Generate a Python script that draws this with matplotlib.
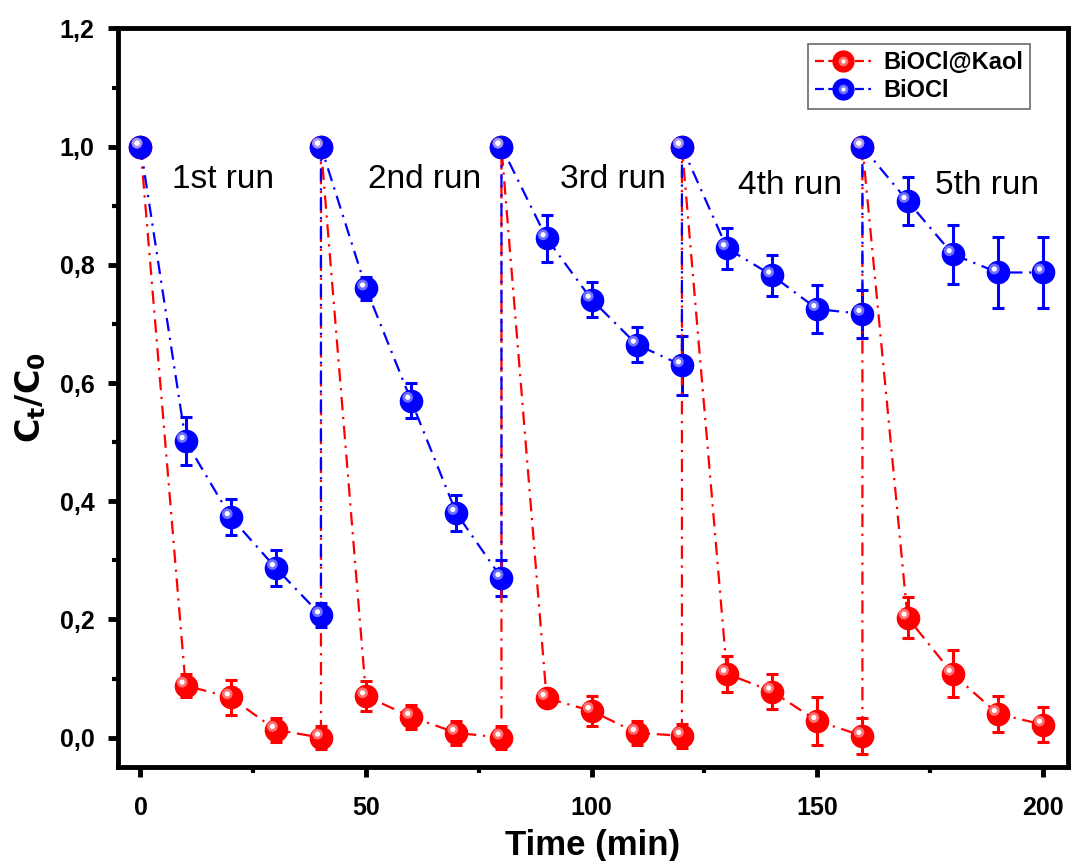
import numpy as np
import matplotlib
matplotlib.use("Agg")
import matplotlib.pyplot as plt
from matplotlib.ticker import FuncFormatter, MultipleLocator
from matplotlib.transforms import offset_copy
from matplotlib.lines import Line2D
from matplotlib.legend_handler import HandlerTuple

plt.rcParams['font.family'] = ['Liberation Sans', 'DejaVu Sans']

# data: 5 runs, each 0..40 min, points at run boundaries repeated
time = [0, 10, 20, 30, 40,
        40, 50, 60, 70, 80,
        80, 90, 100, 110, 120,
        120, 130, 140, 150, 160,
        160, 170, 180, 190, 200]
kaol = [1.0, 0.088, 0.068, 0.013, 0.0,
        1.0, 0.070, 0.035, 0.008, 0.0,
        1.0, 0.067, 0.045, 0.008, 0.003,
        1.0, 0.108, 0.078, 0.028, 0.003,
        1.0, 0.203, 0.108, 0.040, 0.022]
kaol_err = [0, 0.02, 0.03, 0.02, 0.02,
            0, 0.025, 0.02, 0.02, 0.02,
            0, 0.0, 0.025, 0.02, 0.02,
            0, 0.03, 0.03, 0.04, 0.03,
            0, 0.035, 0.04, 0.03, 0.03]
bioc = [1.0, 0.502, 0.373, 0.287, 0.207,
        1.0, 0.760, 0.570, 0.380, 0.270,
        1.0, 0.845, 0.741, 0.665, 0.630,
        1.0, 0.828, 0.782, 0.725, 0.717,
        1.0, 0.908, 0.818, 0.787, 0.787]
bioc_err = [0, 0.04, 0.03, 0.03, 0.02,
            0, 0.02, 0.03, 0.03, 0.03,
            0, 0.04, 0.03, 0.03, 0.05,
            0, 0.035, 0.035, 0.04, 0.04,
            0, 0.04, 0.05, 0.06, 0.06]

runs = ["1st run", "2nd run", "3rd run", "4th run", "5th run"]
run_x = [7, 50.5, 93, 132.5, 176]
run_y = [0.945, 0.945, 0.945, 0.935, 0.935]

fig = plt.figure(figsize=(10.72, 8.61), dpi=100)
ax = fig.add_axes([0.110, 0.109, 0.886, 0.858])

dashdot = (0, (6, 3, 1, 3))

def sphere(x, y, err, color, light):
    ax.errorbar(x, y, yerr=err, color=color, ls=dashdot, lw=1.6,
                marker='o', ms=16, mfc=color, mec=color,
                elinewidth=2.2, capsize=4.5, capthick=2.2, zorder=3)
    tr = offset_copy(ax.transData, fig=fig, x=-2.5, y=2.5, units='points')
    ax.scatter(x, y, s=60, c=light, edgecolors='none', alpha=0.7,
               transform=tr, zorder=4)
    ax.scatter(x, y, s=14, c='white', edgecolors='none', transform=tr, zorder=5)

sphere(time, kaol, kaol_err, '#ff0000', '#ffa0a0')
sphere(time, bioc, bioc_err, '#0000ff', '#a0a0ff')

for t, xx, yy in zip(runs, run_x, run_y):
    ax.text(xx, yy, t, fontsize=24, va='center', ha='left')

ax.set_xlim(-5, 205.5)
ax.set_ylim(-0.05, 1.2)
ax.xaxis.set_major_locator(MultipleLocator(50))
ax.xaxis.set_minor_locator(MultipleLocator(25))
ax.yaxis.set_major_locator(MultipleLocator(0.2))
ax.yaxis.set_minor_locator(MultipleLocator(0.1))
ax.yaxis.set_major_formatter(FuncFormatter(lambda v, p: f"{v:.1f}".replace('.', ',')))
ax.tick_params(which='major', direction='out', length=7, width=3.5, labelsize=18, pad=10)
ax.tick_params(axis='x', which='major', pad=14)
ax.tick_params(which='minor', direction='out', length=4, width=3)
ax.tick_params(top=False, right=False)
for lab in ax.get_xticklabels() + ax.get_yticklabels():
    lab.set_fontweight('bold')
for s in ax.spines.values():
    s.set_linewidth(3.5)

ax.set_xlabel('Time (min)', fontsize=25, fontweight='bold', labelpad=6)
ax.set_ylabel(r'$\mathbf{C_t/C_0}$', fontsize=24, labelpad=8)

def leg_handle(color, light):
    base = Line2D([], [], color=color, ls=(0, (4, 2)), lw=1.6, marker='o', ms=15,
                  mfc=color, mec=color)
    hl = Line2D([], [], ls='none', marker='o', ms=7, mfc=light, mec='none', alpha=0.7)
    dot = Line2D([], [], ls='none', marker='o', ms=3, mfc='white', mec='none')
    return (base, hl, dot)

handles = [leg_handle('#ff0000', '#ffa0a0'), leg_handle('#0000ff', '#a0a0ff')]
leg = ax.legend(handles, ['BiOCl@Kaol', 'BiOCl'], loc='upper right',
                bbox_to_anchor=(0.968, 0.988),
                handler_map={tuple: HandlerTuple(ndivide=1, pad=0)},
                prop={'weight': 'bold', 'size': 17},
                frameon=True, fancybox=False, edgecolor='#444444',
                handlelength=2.4, handletextpad=0.5, labelspacing=0.2,
                borderpad=0.3, borderaxespad=0.3)
leg.get_frame().set_linewidth(1.2)

fig.savefig('out.png', dpi=100)
